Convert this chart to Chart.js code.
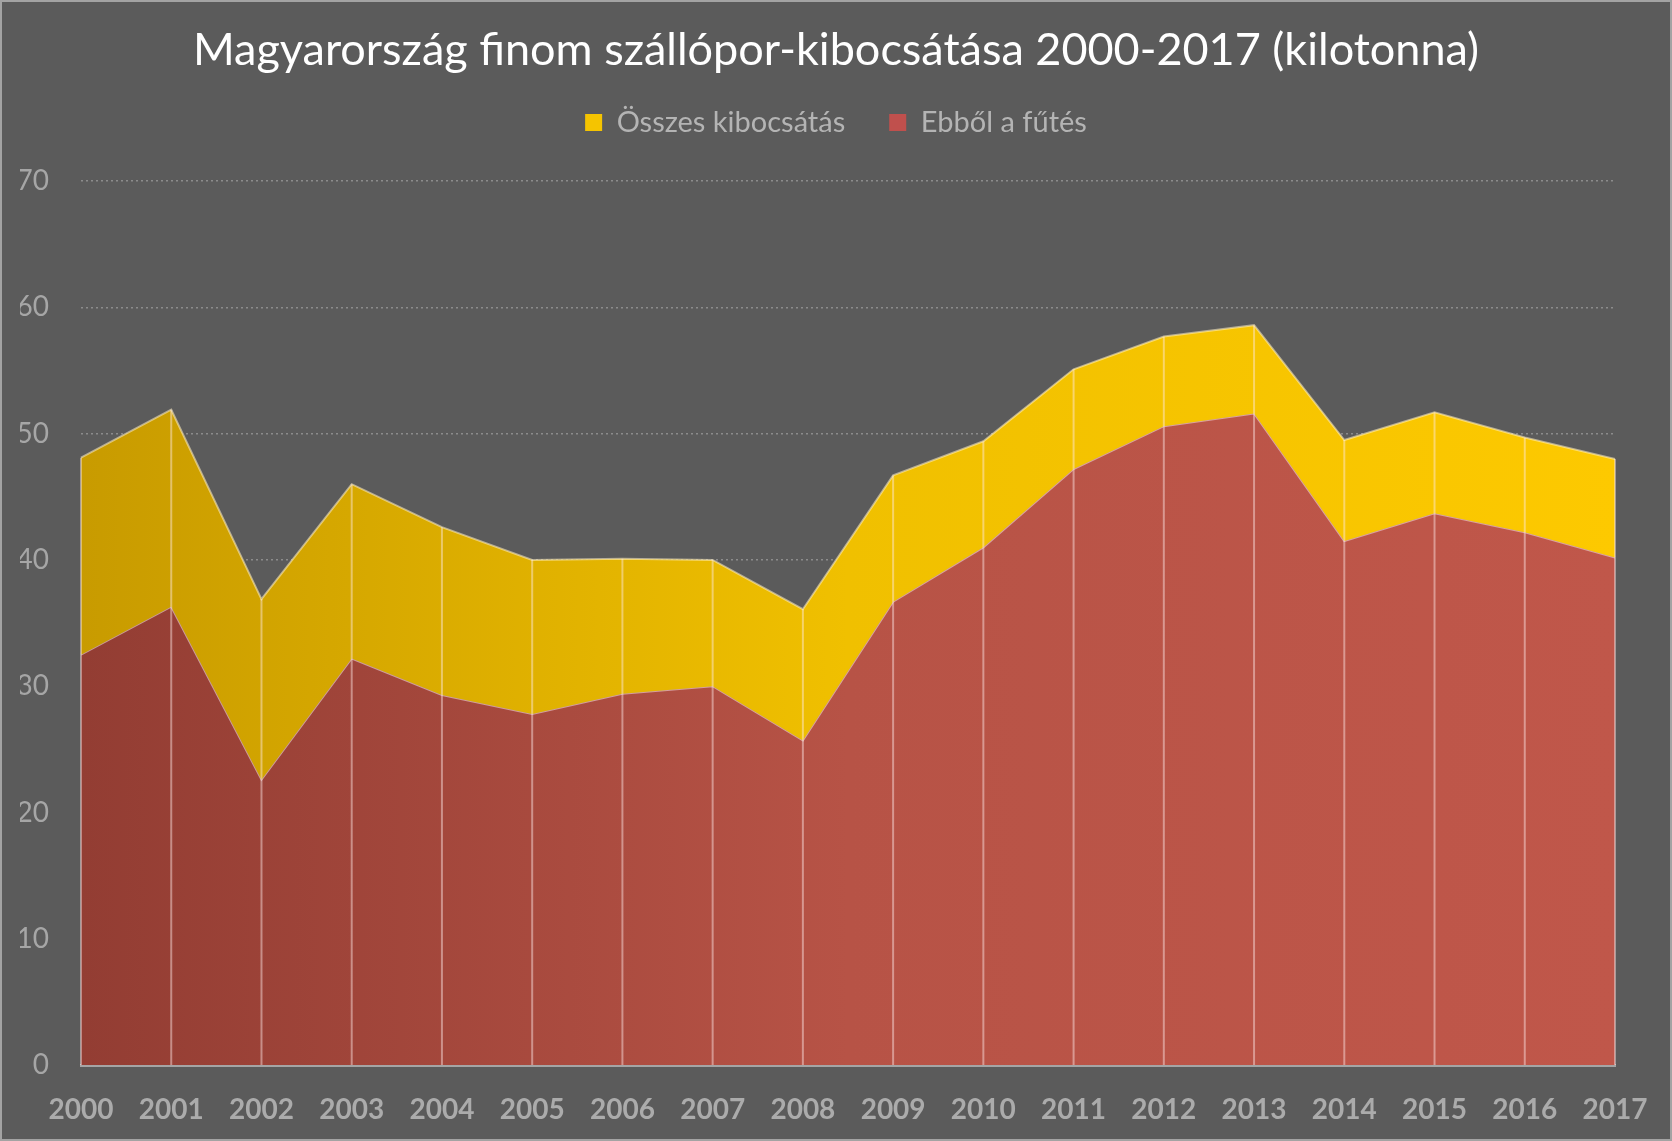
<!DOCTYPE html>
<html>
<head>
<meta charset="utf-8">
<script src="https://cdn.jsdelivr.net/npm/chart.js@4/dist/chart.umd.min.js"></script>
<style>
html,body{margin:0;padding:0;background:#5b5b5b;}
#wrap{width:1672px;height:1141px;position:relative;}
</style>
</head>
<body>
<div id="wrap"><canvas id="c" width="1672" height="1141"></canvas></div>
<script>
const years = ['2000','2001','2002','2003','2004','2005','2006','2007','2008','2009','2010','2011','2012','2013','2014','2015','2016','2017'];
const totalEmission = [48.1, 51.9, 36.9, 46.0, 42.6, 40.0, 40.1, 40.0, 36.1, 46.7, 49.4, 55.1, 57.7, 58.6, 49.5, 51.7, 49.7, 48.0];
const heatingEmission = [32.5, 36.3, 22.6, 32.2, 29.3, 27.8, 29.4, 30.0, 25.7, 36.7, 41.0, 47.2, 50.6, 51.6, 41.5, 43.7, 42.2, 40.2];
const seriesNames = ['Összes kibocsátás', 'Ebből a fűtés'];
const yTicks = [0, 10, 20, 30, 40, 50, 60, 70];

function grad(ctx, stops, fallback) {
  const chart = ctx.chart;
  const a = chart.chartArea;
  if (!a) return fallback;
  const g = chart.ctx.createLinearGradient(a.left, 0, a.right, 0);
  stops.forEach(s => g.addColorStop(s[0], s[1]));
  return g;
}
const yellowStops = [[0,'#c89b00'],[0.5,'#f0c000'],[1,'#fdc900']];
const redStops = [[0,'#933d33'],[0.5,'#b75346'],[1,'#c0574a']];

const bgPlugin = {
  id: 'bg',
  beforeDraw(chart) {
    const c = chart.ctx;
    c.save();
    c.fillStyle = '#5b5b5b';
    c.fillRect(0, 0, chart.width, chart.height);
    c.strokeStyle = '#a3a3a3';
    c.lineWidth = 2;
    c.strokeRect(1, 1, chart.width - 2, chart.height - 2);
    c.restore();
  }
};
const centerBoxes = {
  id: 'centerBoxes',
  afterLayout(chart) {
    [chart.titleBlock, chart.legend].forEach(b => {
      if (!b) return;
      b.left = 0;
      b.right = chart.width;
      b.width = chart.width;
    });
  }
};
const dropLines = {
  id: 'dropLines',
  afterDatasetsDraw(chart) {
    const c = chart.ctx, xs = chart.scales.x, ys = chart.scales.y;
    c.save();
    c.strokeStyle = 'rgba(255,235,235,0.45)';
    c.lineWidth = 2;
    totalEmission.forEach((v, i) => {
      const x = xs.getPixelForValue(i);
      c.beginPath();
      c.moveTo(x, ys.getPixelForValue(0));
      c.lineTo(x, ys.getPixelForValue(v));
      c.stroke();
    });
    c.restore();
  }
};

new Chart(document.getElementById('c'), {
  type: 'line',
  data: {
    labels: years,
    datasets: [
      {
        label: seriesNames[0],
        data: totalEmission,
        fill: 1,
        backgroundColor: ctx => grad(ctx, yellowStops, '#f0c000'),
        borderColor: 'rgba(255,240,200,0.55)',
        borderWidth: 2,
        pointRadius: 0,
        tension: 0
      },
      {
        label: seriesNames[1],
        data: heatingEmission,
        fill: 'origin',
        backgroundColor: ctx => grad(ctx, redStops, '#b75346'),
        borderColor: 'rgba(240,210,220,0.6)',
        borderWidth: 2,
        pointRadius: 0,
        tension: 0
      }
    ]
  },
  options: {
    responsive: false,
    animation: false,
    layout: { padding: { left: 20, right: 57, top: 10, bottom: 0 } },
    plugins: {
      title: {
        display: true,
        text: 'Magyarország finom szállópor-kibocsátása 2000-2017 (kilotonna)',
        color: '#ffffff',
        font: { family: 'Lato', size: 45, weight: 'normal' },
        padding: { top: 13, bottom: -13 }
      },
      subtitle: {
        display: true,
        text: '',
        weight: 500,
        font: { size: 1 },
        padding: { top: 33, bottom: 0 }
      },
      legend: {
        display: true,
        labels: {
          color: '#b4b4b4',
          font: { family: 'Lato', size: 29 },
          boxWidth: 17,
          boxHeight: 17,
          padding: 44,
          generateLabels(chart) {
            const items = Chart.defaults.plugins.legend.labels.generateLabels(chart);
            const cols = ['#f5c400', '#c0504d'];
            items.forEach((it, i) => { it.fillStyle = cols[i]; it.strokeStyle = cols[i]; it.lineWidth = 0; });
            return items;
          }
        }
      },
      tooltip: { enabled: false }
    },
    scales: {
      x: {
        offset: false,
        grid: { display: false, drawTicks: false },
        border: { display: true, color: '#a5a5a5', width: 3 },
        afterFit(scale) { scale.height = 76; scale.paddingLeft = 0; scale.paddingRight = 0; },
        ticks: {
          color: '#ababab',
          font: { family: 'Lato', size: 28, weight: 'bold' },
          padding: 28,
          maxRotation: 0,
          autoSkip: false
        }
      },
      y: {
        min: 0,
        max: 70,
        afterBuildTicks(scale) { scale.ticks = yTicks.map(v => ({ value: v })); },
        afterFit(scale) { scale.width = 61; },
        grid: {
          drawTicks: false,
          color: ctx => ctx.tick && ctx.tick.value === 0 ? 'rgba(0,0,0,0)' : '#8c8c8c',
          lineWidth: 1.5
        },
        border: { display: false, dash: [2, 3] },
        ticks: {
          color: '#a6a6a6',
          font: { family: 'Lato', size: 28 },
          padding: 32
        }
      }
    }
  },
  plugins: [bgPlugin, centerBoxes, dropLines]
});
</script>
</body>
</html>
